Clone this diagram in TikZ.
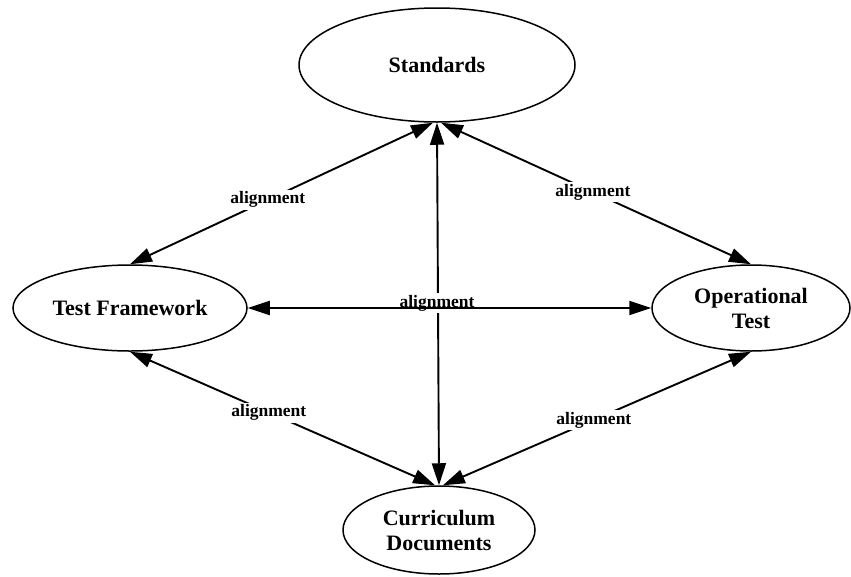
\documentclass[tikz,border=0pt]{standalone}
\usepackage{fontspec}
\setmainfont{Liberation Serif}
\usetikzlibrary{shapes.geometric,arrows.meta}
\begin{document}
\begin{tikzpicture}[x=1pt,y=-1pt,
  ell/.style={draw,ellipse,line width=1.5pt,inner sep=0pt,align=center,font=\bfseries\fontsize{22}{25}\selectfont},
  conn/.style={line width=1.9pt,{Triangle[length=22pt,width=14pt]}-{Triangle[length=22pt,width=14pt]}},
  lab/.style={fill=white,inner sep=2pt,font=\bfseries\fontsize{17.5}{19}\selectfont}]
\useasboundingbox (0,0) rectangle (851,576);
\node[ell,minimum width=276pt,minimum height=114pt] (S) at (437,65) {Standards};
\node[ell,minimum width=234pt,minimum height=86pt] (TF) at (130,308) {Test Framework};
\node[ell,minimum width=198pt,minimum height=86pt] (OT) at (751,308) {Operational\\Test};
\node[ell,minimum width=192pt,minimum height=88pt] (CD) at (439,530) {Curriculum\\Documents};
\draw[conn] (S.south) -- (CD.north);
\node[lab] (lc) at (437,303) {alignment};
\draw[conn] (TF.east) -- (OT.west);
\draw[conn] (S.266) -- node[lab,pos=0.545] (l1) {alignment} (TF.north);
\draw[conn] (S.274) -- node[lab,pos=0.49] (l2) {alignment} (OT.north);
\draw[conn] (TF.south) -- node[lab,pos=0.455] (l3) {alignment} (CD.95);
\draw[conn] (OT.south) -- node[lab,pos=0.51] (l4) {alignment} (CD.85);
\end{tikzpicture}
\end{document}
